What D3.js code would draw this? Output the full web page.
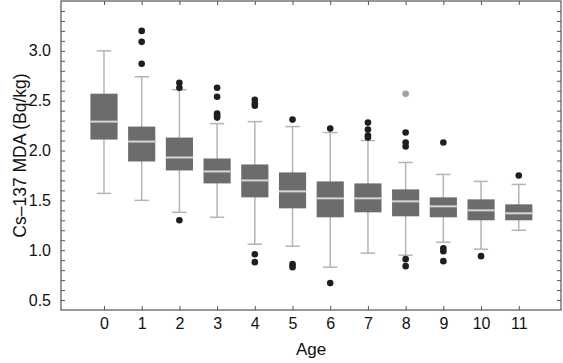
<!DOCTYPE html>
<html>
<head>
<meta charset="utf-8">
<script src="https://cdn.jsdelivr.net/npm/d3@7"></script>
<style>
    body { margin: 0; background: #fff; }
    svg text { font-family: "Liberation Sans", Arial, Helvetica, sans-serif; fill: #111; }
</style>
</head>
<body>
<svg id="box-chart"></svg>
<script>

// values
const ages = [0, 1, 2, 3, 4, 5, 6, 7, 8, 9, 10, 11];
const whiskerLow  = [1.57, 1.50, 1.38, 1.33, 1.06, 1.04, 0.83, 0.97, 0.95, 1.08, 1.01, 1.20];
const q1          = [2.11, 1.89, 1.80, 1.67, 1.53, 1.42, 1.33, 1.38, 1.34, 1.33, 1.30, 1.30];
const median      = [2.29, 2.09, 1.93, 1.79, 1.70, 1.59, 1.52, 1.52, 1.49, 1.44, 1.40, 1.37];
const q3          = [2.57, 2.24, 2.13, 1.92, 1.86, 1.78, 1.69, 1.67, 1.61, 1.53, 1.51, 1.46];
const whiskerHigh = [3.00, 2.74, 2.61, 2.27, 2.29, 2.24, 2.18, 2.10, 1.88, 1.76, 1.69, 1.66];
const outliers = [
    [],
    [3.20, 3.09, 2.87],
    [2.68, 2.63, 1.30],
    [2.63, 2.54, 2.37, 2.35, 2.33],
    [2.51, 2.47, 2.45, 0.96, 0.88],
    [2.31, 0.86, 0.83],
    [2.22, 0.67],
    [2.28, 2.21, 2.15, 2.13],
    [2.18, 2.08, 2.04, 0.91, 0.84],
    [2.08, 1.02, 0.99, 0.89],
    [0.94],
    [1.75]
];
const farOutliers = [[], [], [], [], [], [], [], [], [2.57], [], [], []];
const yTickValues = d3.range(5, 35).map(d => d / 10);
const yLabelValues = [0.5, 1.0, 1.5, 2.0, 2.5, 3.0];

class BoxChart {

    constructor() {
        this.width = 563;
        this.height = 363;
        this.frame = { left: 61, right: 561, top: 1, bottom: 310 };

        this.svg = d3.select("#box-chart")
            .attr('width', this.width)
            .attr('height', this.height)

        this.xScale = d3.scaleLinear()
            .domain([-1.14, 12.12])
            .range([this.frame.left, this.frame.right])
        this.yScale = d3.scaleLinear()
            .domain([0.4, 3.5])
            .range([this.frame.bottom, this.frame.top])

        this.boxWidth = this.xScale(0.72) - this.xScale(0);
        this.capWidth = this.xScale(0.38) - this.xScale(0);

        this.drawBoxes()
        this.drawAxes()
    }

    drawAxes() {
        const f = this.frame;
        const fmt = d => yLabelValues.some(v => Math.abs(v - d) < 1e-6) ? d3.format('.1f')(d) : '';

        this.svg.append('g')
            .attr('transform', 'translate(' + f.left + ',0)')
            .call(d3.axisLeft(this.yScale).tickValues(yTickValues).tickSize(-4).tickPadding(10).tickFormat(fmt))
            .call(g => g.selectAll('text').style('font-size', '16px'))
        this.svg.append('g')
            .attr('transform', 'translate(' + f.right + ',0)')
            .call(d3.axisRight(this.yScale).tickValues(yTickValues).tickSize(-4).tickFormat(''))

        this.svg.append('g')
            .attr('transform', 'translate(0,' + f.bottom + ')')
            .call(d3.axisBottom(this.xScale).tickValues(ages).tickSize(-4).tickPadding(8).tickFormat(d3.format('d')))
            .call(g => g.selectAll('text').style('font-size', '16px'))
        this.svg.append('g')
            .attr('transform', 'translate(0,' + f.top + ')')
            .call(d3.axisTop(this.xScale).tickValues(ages).tickSize(-4).tickFormat(''))

        this.svg.selectAll('.domain').remove();
        this.svg.selectAll('.tick line').attr('stroke', '#555').attr('stroke-width', 1);

        // frame
        this.svg.append('rect')
            .attr('x', f.left)
            .attr('y', f.top)
            .attr('width', f.right - f.left)
            .attr('height', f.bottom - f.top)
            .attr('fill', 'none')
            .attr('stroke', '#555')
            .attr('stroke-width', 1.2);

        // axis titles
        this.svg.append('text')
            .text('Age')
            .attr('x', (f.left + f.right) / 2)
            .attr('y', 355)
            .attr('text-anchor', 'middle')
            .style('font-size', '17px');

        this.svg.append('text')
            .text('Cs\u2013137 MDA (Bq/kg)')
            .attr('transform', 'translate(26,' + ((f.top + f.bottom) / 2) + ') rotate(-90)')
            .attr('text-anchor', 'middle')
            .style('font-size', '17.5px');
    }

    drawBoxes() {
        const x = this.xScale, y = this.yScale;
        const bw = this.boxWidth, cw = this.capWidth;

        const g = this.svg.append('g')
            .selectAll('g')
            .data(ages)
            .join('g')
            .attr('transform', d => 'translate(' + x(d) + ',0)');

        // whiskers
        g.append('line')
            .attr('y1', (d, i) => y(whiskerLow[i]))
            .attr('y2', (d, i) => y(whiskerHigh[i]))
            .attr('stroke', '#b4b4b4').attr('stroke-width', 1.5);
        g.append('line')
            .attr('x1', -cw / 2).attr('x2', cw / 2)
            .attr('y1', (d, i) => y(whiskerHigh[i])).attr('y2', (d, i) => y(whiskerHigh[i]))
            .attr('stroke', '#b4b4b4').attr('stroke-width', 1.5);
        g.append('line')
            .attr('x1', -cw / 2).attr('x2', cw / 2)
            .attr('y1', (d, i) => y(whiskerLow[i])).attr('y2', (d, i) => y(whiskerLow[i]))
            .attr('stroke', '#b4b4b4').attr('stroke-width', 1.5);

        // boxes
        g.append('rect')
            .attr('x', -bw / 2)
            .attr('width', bw)
            .attr('y', (d, i) => y(q3[i]))
            .attr('height', (d, i) => y(q1[i]) - y(q3[i]))
            .attr('fill', '#6c6c6c');
        g.append('line')
            .attr('x1', -bw / 2).attr('x2', bw / 2)
            .attr('y1', (d, i) => y(median[i])).attr('y2', (d, i) => y(median[i]))
            .attr('stroke', '#d6d6d6').attr('stroke-width', 2);

        // outliers
        g.selectAll('.out')
            .data((d, i) => outliers[i])
            .join('circle')
            .attr('class', 'out')
            .attr('cy', v => y(v))
            .attr('r', 3.3)
            .attr('fill', '#211d1e');
        g.selectAll('.far')
            .data((d, i) => farOutliers[i])
            .join('circle')
            .attr('class', 'far')
            .attr('cy', v => y(v))
            .attr('r', 3.3)
            .attr('fill', '#a3a3a3');
    }
}

new BoxChart();
</script>
</body>
</html>
